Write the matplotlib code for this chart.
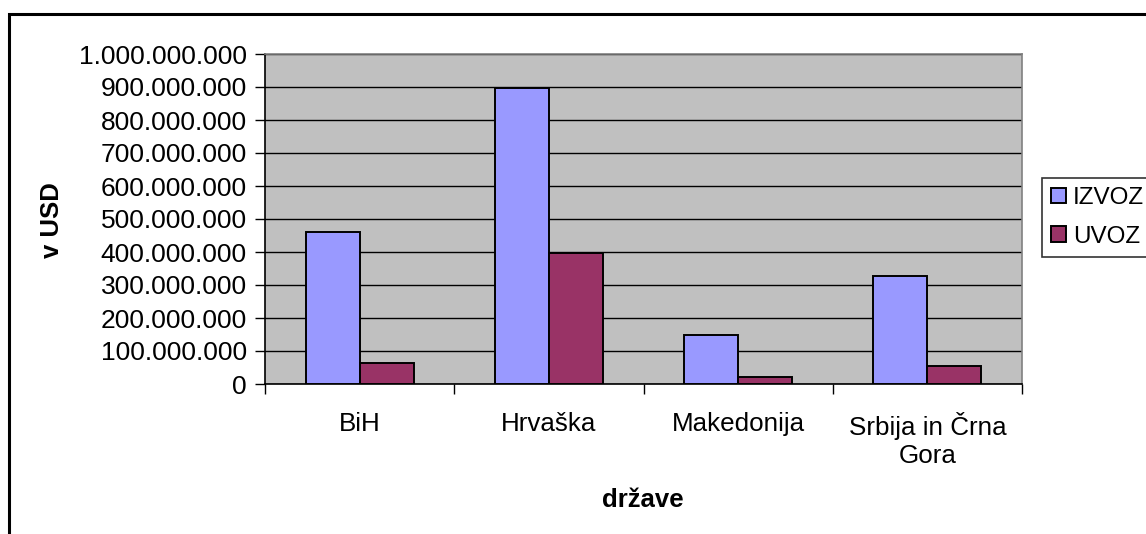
import matplotlib
matplotlib.use("Agg")
import matplotlib.pyplot as plt
import numpy as np
from matplotlib.patches import Rectangle
from matplotlib.ticker import FuncFormatter, MultipleLocator

categories = ["BiH", "Hrvaška", "Makedonija", "Srbija in Črna\nGora"]
izvoz = [461e6, 898e6, 149e6, 327e6]
uvoz = [65e6, 396e6, 20e6, 54e6]
series_names = ["IZVOZ", "UVOZ"]
colors = ["#9999FF", "#993366"]

plt.rcParams['font.family'] = ['Liberation Sans', 'DejaVu Sans']

W, H = 1146, 534
fig = plt.figure(figsize=(W / 100, H / 100), dpi=100)
fig.patch.set_facecolor("white")

# outer chart border (cut off on right and bottom)
fig.patches.append(Rectangle((9 / W, -0.1), 1.2, (H - 14) / H + 0.1,
                             transform=fig.transFigure, fill=False,
                             edgecolor="black", linewidth=2.2, zorder=0))

left, right, top, bottom = 265, 1022, 54, 384
ax = fig.add_axes([left / W, (H - bottom) / H, (right - left) / W, (bottom - top) / H])
ax.set_facecolor("#C0C0C0")

x = np.arange(len(categories))
bw = 1 / 3.5
ax.bar(x - bw / 2, izvoz, bw, color=colors[0], edgecolor="black", linewidth=1.4,
       label=series_names[0], zorder=3)
ax.bar(x + bw / 2, uvoz, bw, color=colors[1], edgecolor="black", linewidth=1.4,
       label=series_names[1], zorder=3)

ax.set_xlim(-0.5, len(categories) - 0.5)
ax.set_ylim(0, 1e9)
ax.yaxis.set_major_locator(MultipleLocator(1e8))
ax.yaxis.set_major_formatter(FuncFormatter(lambda v, p: f"{int(round(v)):,}".replace(",", ".")))
ax.grid(axis="y", color="black", linewidth=1, zorder=1)
ax.set_axisbelow(True)

ax.set_xticks(np.arange(len(categories) + 1) - 0.5, minor=False)
ax.set_xticklabels([])
ax.set_xticks(x, minor=True)
ax.set_xticklabels(categories, minor=True, fontsize=18.7, linespacing=1.22)
ax.tick_params(axis="x", which="major", direction="out", length=7, width=1, color="black")
ax.tick_params(axis="x", which="minor", length=0, pad=20)
ax.tick_params(axis="y", direction="out", length=7, width=1, labelsize=19, pad=6)

for s in ["top", "right"]:
    ax.spines[s].set_color("#808080")
    ax.spines[s].set_linewidth(1.2)
for s in ["left", "bottom"]:
    ax.spines[s].set_color("black")
    ax.spines[s].set_linewidth(1.2)

fig.text(52 / W, 1 - 220 / H, "v USD", rotation=90, ha="center", va="center",
         fontsize=18.5, fontweight="bold")
fig.text(643 / W, 1 - 500 / H, "države", ha="center", va="center",
         fontsize=18.5, fontweight="bold")

leg = fig.legend(loc="upper left", bbox_to_anchor=(1042 / W, 1 - 178 / H),
                 frameon=True, fancybox=False, fontsize=17.5, handlelength=0.6,
                 handleheight=0.6, handletextpad=0.3, borderpad=0.38,
                 labelspacing=0.68, borderaxespad=0)
leg.get_frame().set_edgecolor("black")
leg.get_frame().set_linewidth(1.2)

fig.savefig("out.png", dpi=100)
